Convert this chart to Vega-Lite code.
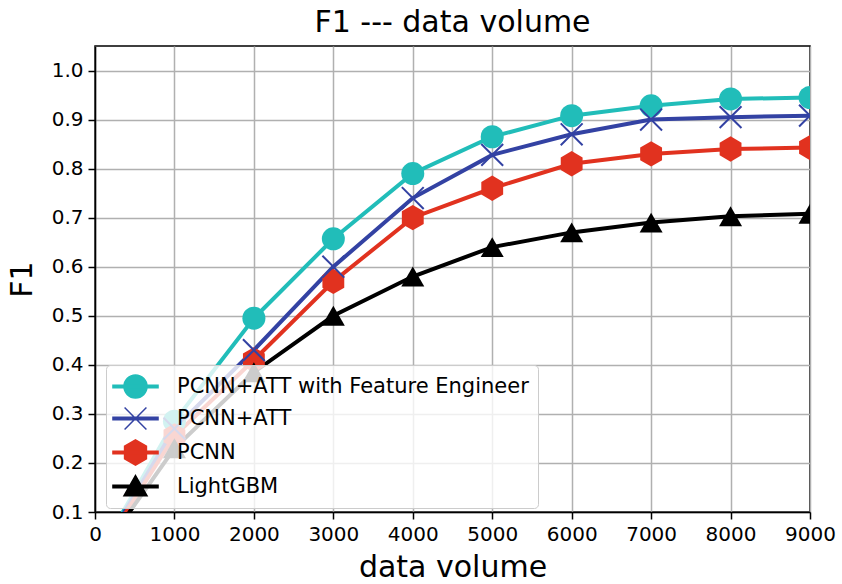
{
  "$schema": "https://vega.github.io/schema/vega-lite/v6.json",
  "autosize": "none",
  "padding": {"left": 95, "top": 46, "right": 32, "bottom": 72},
  "width": 715,
  "height": 466,
  "background": "white",
  "title": {"text": "F1 --- data volume", "font": "DejaVu Sans", "fontSize": 30, "fontWeight": "normal", "color": "black", "offset": 8},
  "config": {
    "font": "DejaVu Sans",
    "view": {"stroke": "black", "strokeWidth": 1.5},
    "axis": {
      "labelFont": "DejaVu Sans", "labelFontSize": 20, "labelColor": "black",
      "titleFont": "DejaVu Sans", "titleFontSize": 30, "titleFontWeight": "normal", "titleColor": "black",
      "gridColor": "#b0b0b0", "gridWidth": 1.5, "gridOpacity": 1,
      "domainColor": "black", "domainWidth": 1.5,
      "tickColor": "black", "tickSize": 7, "tickWidth": 1.5, "labelPadding": 5
    }
  },
  "data": {"values": [
    {"model": "PCNN+ATT with Feature Engineer", "x": 0, "y": 0},
    {"model": "PCNN+ATT with Feature Engineer", "x": 1000, "y": 0.285},
    {"model": "PCNN+ATT with Feature Engineer", "x": 2000, "y": 0.495},
    {"model": "PCNN+ATT with Feature Engineer", "x": 3000, "y": 0.657},
    {"model": "PCNN+ATT with Feature Engineer", "x": 4000, "y": 0.79},
    {"model": "PCNN+ATT with Feature Engineer", "x": 5000, "y": 0.865},
    {"model": "PCNN+ATT with Feature Engineer", "x": 6000, "y": 0.908},
    {"model": "PCNN+ATT with Feature Engineer", "x": 7000, "y": 0.928},
    {"model": "PCNN+ATT with Feature Engineer", "x": 8000, "y": 0.942},
    {"model": "PCNN+ATT with Feature Engineer", "x": 9000, "y": 0.945},
    {"model": "PCNN+ATT", "x": 0, "y": 0},
    {"model": "PCNN+ATT", "x": 1000, "y": 0.27},
    {"model": "PCNN+ATT", "x": 2000, "y": 0.43},
    {"model": "PCNN+ATT", "x": 3000, "y": 0.6},
    {"model": "PCNN+ATT", "x": 4000, "y": 0.74},
    {"model": "PCNN+ATT", "x": 5000, "y": 0.828},
    {"model": "PCNN+ATT", "x": 6000, "y": 0.87},
    {"model": "PCNN+ATT", "x": 7000, "y": 0.9},
    {"model": "PCNN+ATT", "x": 8000, "y": 0.905},
    {"model": "PCNN+ATT", "x": 9000, "y": 0.908},
    {"model": "PCNN", "x": 0, "y": 0},
    {"model": "PCNN", "x": 1000, "y": 0.255},
    {"model": "PCNN", "x": 2000, "y": 0.41},
    {"model": "PCNN", "x": 3000, "y": 0.57},
    {"model": "PCNN", "x": 4000, "y": 0.7},
    {"model": "PCNN", "x": 5000, "y": 0.76},
    {"model": "PCNN", "x": 6000, "y": 0.81},
    {"model": "PCNN", "x": 7000, "y": 0.83},
    {"model": "PCNN", "x": 8000, "y": 0.84},
    {"model": "PCNN", "x": 9000, "y": 0.843},
    {"model": "LightGBM", "x": 0, "y": 0},
    {"model": "LightGBM", "x": 1000, "y": 0.23},
    {"model": "LightGBM", "x": 2000, "y": 0.385},
    {"model": "LightGBM", "x": 3000, "y": 0.5},
    {"model": "LightGBM", "x": 4000, "y": 0.58},
    {"model": "LightGBM", "x": 5000, "y": 0.64},
    {"model": "LightGBM", "x": 6000, "y": 0.67},
    {"model": "LightGBM", "x": 7000, "y": 0.69},
    {"model": "LightGBM", "x": 8000, "y": 0.703},
    {"model": "LightGBM", "x": 9000, "y": 0.708}
  ]},
  "encoding": {
    "x": {"field": "x", "type": "quantitative", "title": "data volume",
      "scale": {"domain": [0, 9000], "nice": false},
      "axis": {"values": [0,1000,2000,3000,4000,5000,6000,7000,8000,9000], "format": "d", "labelFlush": false, "labelOverlap": false,
        "labelFontSize": 20, "labelFont": "DejaVu Sans", "labelPadding": 5, "titleFontSize": 30, "titlePadding": 8}},
    "y": {"field": "y", "type": "quantitative", "title": "F1",
      "scale": {"domain": [0.1, 1.05], "nice": false, "zero": false},
      "axis": {"values": [0.1,0.2,0.3,0.4,0.5,0.6,0.7,0.8,0.9,1.0], "format": ".1f", "labelOverlap": false,
        "labelFontSize": 20, "labelFont": "DejaVu Sans", "labelPadding": 5, "titleFontSize": 30, "titlePadding": 14}},
    "color": {"field": "model", "type": "nominal",
      "scale": {"domain": ["PCNN+ATT with Feature Engineer", "PCNN+ATT", "PCNN", "LightGBM"], "range": ["#21bdb9", "#3342a3", "#e1321f", "#000000"]},
      "legend": {
        "title": null, "orient": "none", "legendX": 11, "legendY": 319,
        "fillColor": "rgba(255,255,255,0.8)", "strokeColor": "#cccccc", "cornerRadius": 4,
        "padding": 9, "symbolOffset": 8, "labelFontSize": 21, "labelFont": "DejaVu Sans", "labelColor": "black", "labelLimit": 0,
        "symbolSize": 529, "rowPadding": 3, "labelOffset": 29, "symbolStrokeWidth": 1.5, "symbolOpacity": 1,
        "encode": {"symbols": {"update": {
          "fill": {"scale": "color", "field": "value"},
          "stroke": {"scale": "color", "field": "value"},
          "strokeWidth": {"value": 1.5},
          "opacity": {"value": 1},
          "size": {"value": 529},
          "shape": {"signal": "datum.value === 'PCNN+ATT with Feature Engineer' ? 'M-1.96,-0.1H1.96V0.1H-1.96Z M1,0A1,1 0 1,1 -1,0A1,1 0 1,1 1,0Z' : datum.value === 'PCNN+ATT' ? 'M-1.96,-0.1H1.96V0.1H-1.96Z M-0.95,-0.95L0.95,0.95M-0.95,0.95L0.95,-0.95' : datum.value === 'PCNN' ? 'M-1.96,-0.1H1.96V0.1H-1.96Z M0,-1.1L0.95,-0.55L0.95,0.55L0,1.1L-0.95,0.55L-0.95,-0.55Z' : 'M-1.96,-0.1H1.96V0.1H-1.96Z M0,-0.95L1,0.8L-1,0.8Z'"}
        }}}
      }}
  },
  "layer": [
    {
      "mark": {"type": "line", "strokeWidth": 4, "clip": true}
    },
    {
      "transform": [{"filter": "datum.model !== 'PCNN+ATT'"}],
      "mark": {"type": "point", "filled": true, "opacity": 1, "size": 529, "clip": true},
      "encoding": {
        "shape": {"field": "model", "type": "nominal", "legend": null,
          "scale": {"domain": ["PCNN+ATT with Feature Engineer", "PCNN", "LightGBM"],
            "range": ["circle", "M0,-1.1L0.95,-0.55L0.95,0.55L0,1.1L-0.95,0.55L-0.95,-0.55Z", "triangle-up"]}}
      }
    },
    {
      "transform": [{"filter": "datum.model === 'PCNN+ATT'"}],
      "mark": {"type": "point", "filled": false, "opacity": 1, "size": 529, "strokeWidth": 2, "clip": true,
        "shape": "M-0.95,-0.95L0.95,0.95M-0.95,0.95L0.95,-0.95"}
    }
  ]
}
